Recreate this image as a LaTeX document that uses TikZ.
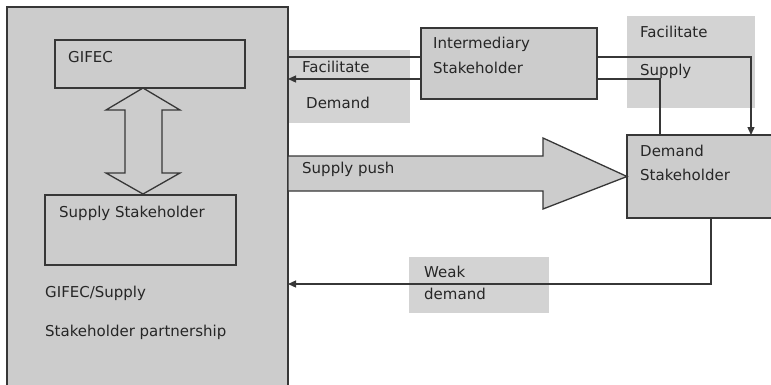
\documentclass[tikz,border=0pt]{standalone}
\usepackage{fontspec}
\setmainfont{DejaVu Sans}
\usetikzlibrary{arrows.meta, positioning}
\definecolor{inkdark}{RGB}{55, 55, 55}
\definecolor{fillbox}{RGB}{204, 204, 204}
\definecolor{fillpad}{RGB}{211, 211, 211}
\tikzset{
    blk/.style   ={draw=inkdark, line width=1.3pt, fill=fillbox,
                   inner sep=0pt, outer sep=0pt},
    pad/.style   ={fill=fillpad, inner sep=0pt, outer sep=0pt},
    txt/.style   ={anchor=base west, inner sep=0pt,
                   font=\fontsize{15}{17}\selectfont, text=black!85},
    ln/.style    ={draw=inkdark, line width=1.3pt},
    ar/.style    ={ln, -{Triangle[length=8pt, width=7pt]}},
    fat/.style   ={draw=inkdark, line width=1.3pt, line join=miter}
}

\begin{document}
\begin{tikzpicture}[x=1pt, y=-1pt]
  \useasboundingbox (0,0) rectangle (771,384);
  \clip (0,0) rectangle (771,384);

  % label pads
  \node[pad, minimum width=123pt, minimum height=73pt] (fdpad) at (348.5, 86.5) {};
  \node[pad, minimum width=128pt, minimum height=92pt] (fspad) at (691, 62) {};
  \node[pad, minimum width=140pt, minimum height=56pt] (wdpad) at (479, 285) {};

  % partnership
  \node[blk, minimum width=281pt, minimum height=400pt] (partner) at (147.5, 207) {};
  \node[blk, minimum width=190pt, minimum height=48pt] (gifec) at (150, 64) {};
  \node[blk, minimum width=191pt, minimum height=70pt] (supply) at (140.5, 230) {};
  \node[txt] (gifectxt) at (68, 62) {GIFEC};
  \node[txt] (supplytxt) at (59, 217) {Supply Stakeholder};
  \node[txt] (parttxta) at (45, 297) {GIFEC/Supply};
  \node[txt] (parttxtb) at (45, 336) {Stakeholder partnership};

  % two way link
  \draw[fat] (143,88) -- (180,110) -- (162,110) -- (162,173) -- (180,173)
    -- (143,194) -- (106,173) -- (125,173) -- (125,110) -- (106,110) -- cycle;

  % intermediary and demand
  \node[blk, minimum width=176pt, minimum height=71pt] (inter) at (509, 63.5) {};
  \node[blk, minimum width=160pt, minimum height=83pt] (demand) at (707, 176.5) {};
  \node[txt] (intertxta) at (433, 48) {Intermediary};
  \node[txt] (intertxtb) at (433, 73) {Stakeholder};
  \node[txt] (demtxta) at (640, 156) {Demand};
  \node[txt] (demtxtb) at (640, 180) {Stakeholder};

  % supply push
  \draw[fat, fill=fillbox] (partner.east |- 0,156) -- (543,156) -- (543,138)
    -- (demand.west) -- (543,209) -- (543,191) -- (partner.east |- 0,191) -- cycle;
  \node[txt] (pushtxt) at (302, 173) {Supply push};

  % facilitation links
  \coordinate (intA) at ([yshift=6.5pt]inter.west);
  \coordinate (intB) at ([yshift=-15.5pt]inter.west);
  \coordinate (intC) at ([yshift=6.5pt]inter.east);
  \coordinate (intD) at ([yshift=-15.5pt]inter.east);
  \draw[ln] (intA) -- (intA -| partner.east);
  \draw[ar] (intB) -- (intB -| partner.east);
  \draw[ar] (intC) -| (demand.north -| 751,0);
  \draw[ln] (intD) -| (demand.north -| 660,0);
  \draw[ar] (demand.south -| 711,0) |- (partner.east |- 0,284);

  \node[txt] (fdtxta) at (302, 72) {Facilitate};
  \node[txt] (fdtxtb) at (306, 108) {Demand};
  \node[txt] (fstxta) at (640, 37) {Facilitate};
  \node[txt] (fstxtb) at (640, 75) {Supply};
  \node[txt] (wdtxta) at (424, 277) {Weak};
  \node[txt] (wdtxtb) at (424, 299) {demand};
\end{tikzpicture}
\end{document}
